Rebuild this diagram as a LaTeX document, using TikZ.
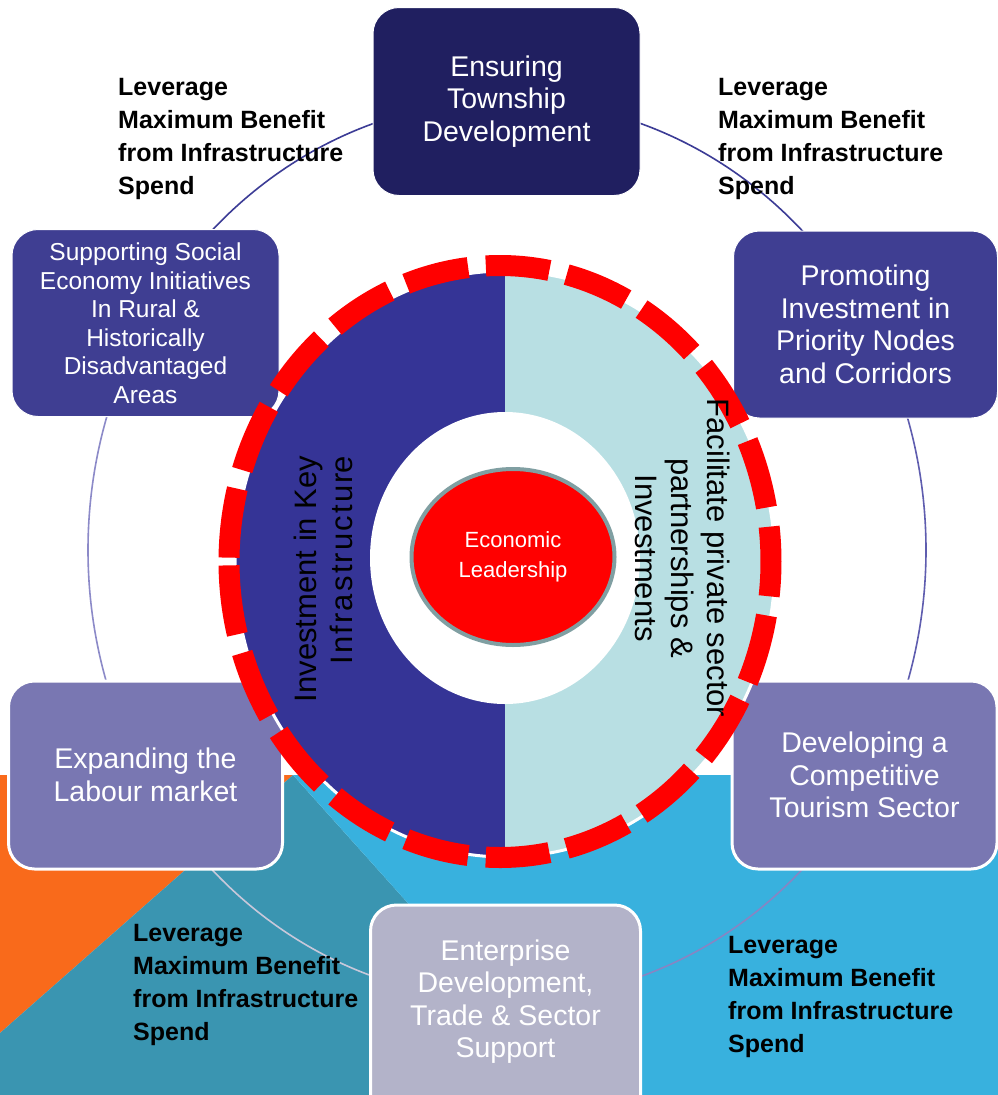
\documentclass[tikz,border=0pt]{standalone}
\usepackage{fontspec}
\setmainfont{Liberation Sans}
\usetikzlibrary{shapes.geometric}
\definecolor{navy}{RGB}{32,31,96}
\definecolor{slate}{RGB}{63,62,146}
\definecolor{lav}{RGB}{121,119,178}
\definecolor{grayl}{RGB}{179,179,201}
\definecolor{diskL}{RGB}{53,52,150}
\definecolor{diskR}{RGB}{184,223,227}
\definecolor{orng}{RGB}{249,106,27}
\definecolor{tealD}{RGB}{58,149,177}
\definecolor{bluel}{RGB}{56,177,222}
\definecolor{rimg}{RGB}{128,159,162}
\definecolor{ringA}{RGB}{60,60,150}
\definecolor{ringB}{RGB}{95,93,175}
\definecolor{ringC}{RGB}{135,133,195}
\definecolor{ringD}{RGB}{200,200,218}
\definecolor{ringE}{RGB}{140,138,200}
\newcommand{\bxfont}{\fontsize{28.5}{32.5}\selectfont}
\newcommand{\smbxfont}{\fontsize{24.5}{28.5}\selectfont}
\newcommand{\levfont}{\fontsize{25}{33}\selectfont\bfseries}
\newcommand{\rotfont}{\fontsize{31}{36}\selectfont}
\newcommand{\ecofont}{\fontsize{22}{30}\selectfont}
\tikzset{
  cbox/.style={rounded corners=26pt, fill=#1, text=white, align=center, font=\bxfont, inner sep=0pt},
  thinb/.style={draw=white, line width=1pt},
  thickb/.style={draw=white, line width=3pt},
  lev/.style={anchor=north west, inner sep=0pt, align=left, font=\levfont, text=black},
  ringseg/.style={line width=1.6pt},
  reddash/.style={red, line width=21pt},
}
\begin{document}
\begin{tikzpicture}[x=1pt,y=-1pt]
\useasboundingbox (0,0) rectangle (998,1095);
\fill[white] (0,0) rectangle (998,1095);
% background shapes
\fill[orng] (0,775) -- (293,775) -- (0,1033) -- cycle;
\fill[tealD] (293,775) -- (0,1033) -- (0,1095) -- (580,1095) -- cycle;
\fill[bluel] (293,775) -- (998,775) -- (998,1095) -- (580,1095) -- cycle;
% cycle ring
\coordinate (ringc) at (507,550);
\draw[ringseg, ringA] ([shift={(100:419pt and 450pt)}]ringc) arc[start angle=100, end angle=140, x radius=419pt, y radius=450pt];
\draw[ringseg, ringA] ([shift={(80:419pt and 450pt)}]ringc) arc[start angle=80, end angle=40, x radius=419pt, y radius=450pt];
\draw[ringseg, ringB] ([shift={(20:419pt and 450pt)}]ringc) arc[start angle=20, end angle=-20, x radius=419pt, y radius=450pt];
\draw[ringseg, ringC] ([shift={(-40:419pt and 450pt)}]ringc) arc[start angle=-40, end angle=-100, x radius=419pt, y radius=450pt];
\draw[ringseg, ringD] ([shift={(-80:419pt and 450pt)}]ringc) arc[start angle=-80, end angle=-140, x radius=419pt, y radius=450pt];
\draw[ringseg, ringE] ([shift={(160:419pt and 450pt)}]ringc) arc[start angle=160, end angle=200, x radius=419pt, y radius=450pt];
% boxes
\node[cbox=navy, thinb, minimum width=267pt, minimum height=188pt] (ensuring) at (506.5,101.5) {Ensuring\\Township\\Development};
\node[cbox=slate, thinb, font=\smbxfont, minimum width=267pt, minimum height=187pt] (supporting) at (145.5,323) {Supporting Social\\Economy Initiatives\\In Rural \&\\Historically\\Disadvantaged\\Areas};
\node[cbox=slate, thinb, minimum width=264pt, minimum height=187pt] (promoting) at (865.5,324.5) {Promoting\\Investment in\\Priority Nodes\\and Corridors};
\node[cbox=lav, thickb, minimum width=265pt, minimum height=188pt] (developing) at (864.5,775) {Developing a\\Competitive\\Tourism Sector};
\node[cbox=lav, thickb, minimum width=274pt, minimum height=188pt] (expanding) at (145.5,775) {Expanding the\\Labour market};
\node[cbox=grayl, thickb, minimum width=270pt, minimum height=220pt] (enterprise) at (505.5,1015) {};
\node[text=white, align=center, font=\bxfont, inner sep=0pt] (enterprisetext) at (505.5,1001.5) {Enterprise\\Development,\\Trade \& Sector\\Support};
% central disk
\coordinate (diskc) at (505,564);
\begin{scope}
  \clip (diskc) ellipse [x radius=270pt, y radius=293pt];
  \fill[diskL] (230,260) rectangle (505,870);
  \fill[diskR] (505,260) rectangle (780,870);
\end{scope}
\draw[white, line width=3pt] (diskc) ellipse [x radius=270pt, y radius=293pt];
\fill[white] (505,558) ellipse [x radius=135pt, y radius=146pt];
\node[ellipse, fill=red, draw=rimg, line width=4pt, minimum width=203pt, minimum height=176pt, inner sep=0pt, text=white, align=center, font=\ecofont] (econ) at (513,557) {Economic\\Leadership};
% dashed ring drawn as 21 separate dashes
\coordinate (dashc) at (500,561.5);
\foreach \i in {0,...,20} {
  \pgfmathsetmacro{\sa}{180.75+\i*17.25}
  \pgfmathsetmacro{\ea}{\sa+13.5}
  \draw[reddash] ([shift={(\sa:271pt and 296pt)}]dashc) arc[start angle=\sa, end angle=\ea, x radius=271pt, y radius=296pt];
}
% rotated texts
\node[rotate=90, align=right, font=\rotfont, inner sep=0pt] (invest) at (323,579) {Investment in Key\\{\addfontfeature{LetterSpace=7}Infrastructur}e};
\node[rotate=-90, align=center, font=\rotfont, inner sep=0pt] (facil) at (683,558) {Facilitate private sector\\partnerships \&\\Investments};
% leverage labels
\node[lev] (levtl) at (118,78.5) {Leverage\\Maximum Benefit\\from Infrastructure\\Spend};
\node[lev] (levtr) at (718,78.5) {Leverage\\Maximum Benefit\\from Infrastructure\\Spend};
\node[lev] (levbl) at (133,924.5) {Leverage\\Maximum Benefit\\from Infrastructure\\Spend};
\node[lev] (levbr) at (728,936.5) {Leverage\\Maximum Benefit\\from Infrastructure\\Spend};
\end{tikzpicture}
\end{document}
